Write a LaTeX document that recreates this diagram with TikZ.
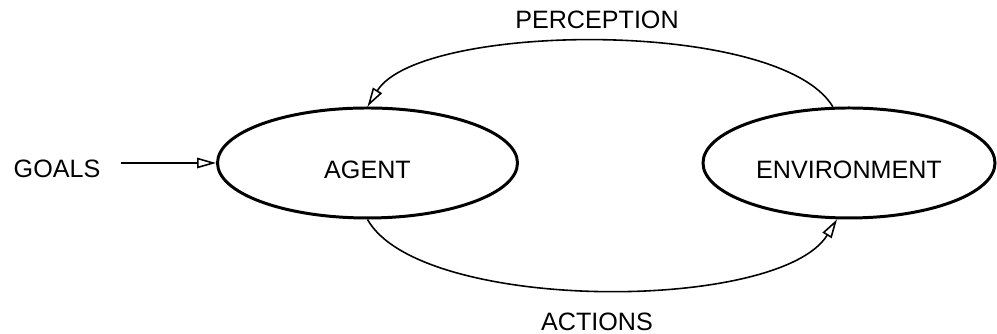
\documentclass[tikz,border=0pt]{standalone}
\usepackage{fontspec}
\setmainfont{Liberation Sans}
\usepackage{tikz}
\usetikzlibrary{arrows.meta,shapes.geometric,positioning}
\tikzset{
  blob/.style={draw=black, ellipse, line width=1.7pt, inner sep=0pt, text height=0.64cm, font=\fontsize{14.3}{17}\selectfont},
  flow/.style={draw=black, line width=0.9pt, -{Triangle[open, length=3.8mm, width=2.1mm]}},
  lab/.style={text=black, font=\fontsize{14.3}{17}\selectfont},
}
\begin{document}
\begin{tikzpicture}
\useasboundingbox (0,0) rectangle (19.94,6.68);

% the two states
\node[blob, minimum width=6cm, minimum height=2.2cm] (agent) at (7.35,3.42) {AGENT};
\node[blob, minimum width=5.84cm, minimum height=2.2cm] (env) at (16.98,3.42) {ENVIRONMENT};

% labels
\node[lab] (goals) at (1.14,3.30) {GOALS};
\node[lab] (perc) at (11.94,6.28) {PERCEPTION};
\node[lab] (act) at (11.94,0.24) {ACTIONS};

% connectors
\draw[flow, shorten <=0.28cm] (goals.east |- agent.west) -- (agent.west);
\draw[flow] (env.106) .. controls (15.6,6.32) and (8.4,6.24) .. (agent.north);
\draw[flow] (agent.south) .. controls (8.4,0.42) and (15.58,0.42) .. (env.258);
\end{tikzpicture}
\end{document}
